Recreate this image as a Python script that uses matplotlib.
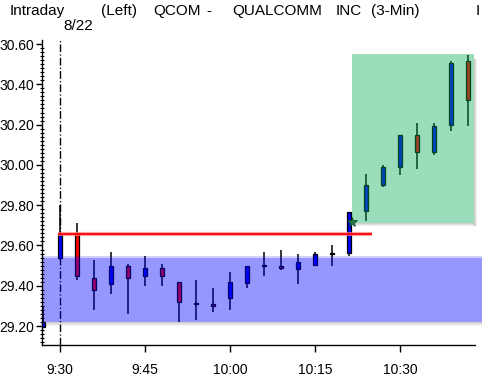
import matplotlib
matplotlib.use("Agg")
import matplotlib.pyplot as plt
from matplotlib.patches import Rectangle
import numpy as np

plt.rcParams['font.family'] = ['Liberation Sans Narrow', 'Liberation Sans', 'DejaVu Sans']

# ---- data (3-minute candles, QCOM 8/22) ----
times = ["9:27", "9:30", "9:33", "9:36", "9:39", "9:42", "9:45", "9:48", "9:51", "9:54",
         "9:57", "10:00", "10:03", "10:06", "10:09", "10:12", "10:15", "10:18", "10:21",
         "10:24", "10:27", "10:30", "10:33", "10:36", "10:39", "10:42"]
opens = [29.195, 29.54, 29.66, 29.44, 29.41, 29.50, 29.45, 29.49, 29.42, 29.31,
         29.31, 29.34, 29.415, 29.50, 29.50, 29.485, 29.505, 29.56, 29.565,
         29.77, 29.90, 29.99, 30.15, 30.065, 30.20, 30.515]
highs = [29.30, 29.80, 29.71, 29.53, 29.57, 29.51, 29.55, 29.51, 29.42, 29.43,
         29.39, 29.47, 29.50, 29.57, 29.58, 29.56, 29.57, 29.60, 29.765,
         29.955, 30.00, 30.15, 30.21, 30.21, 30.515, 30.545]
lows = [29.19, 29.53, 29.43, 29.28, 29.36, 29.26, 29.40, 29.40, 29.22, 29.23,
        29.27, 29.28, 29.39, 29.45, 29.48, 29.41, 29.50, 29.50, 29.55,
        29.72, 29.89, 29.95, 29.98, 30.05, 30.17, 30.195]
closes = [29.22, 29.65, 29.45, 29.38, 29.50, 29.44, 29.49, 29.45, 29.32, 29.31,
          29.30, 29.42, 29.50, 29.50, 29.487, 29.52, 29.56, 29.56, 29.765,
          29.90, 29.99, 30.15, 30.065, 30.195, 30.505, 30.32]

y_ticks = [29.20, 29.40, 29.60, 29.80, 30.00, 30.20, 30.40, 30.60]
x_tick_labels = ["9:30", "9:45", "10:00", "10:15", "10:30"]

# overlays
band_low, band_high = 29.22, 29.536          # blue range band
resist_level = 29.657                          # red line
resist_start, resist_end = "9:30", "10:25"
box_t0, box_t1 = "10:21.5", "10:43"            # green breakout box
box_low, box_high = 29.71, 30.55

# header words
header_words = ["Intraday", "(Left)", "QCOM", "-", "QUALCOMM", "INC", "(3-Min)", "I"]
date_label = "8/22"


def to_min(s):
    h, m = s.split(":")
    return (int(h) - 9) * 60 + float(m) - 30


x = np.array([to_min(t) for t in times])
o = np.array(opens); h = np.array(highs); l = np.array(lows); c = np.array(closes)

fig = plt.figure(figsize=(4.82, 3.81), dpi=100)
W, H = 482, 381
ax = fig.add_axes([42 / W, 1 - 345 / H, (475 - 42) / W, (345 - 40) / H])
ax.set_xlim(-3.18, 73.24)
ax.set_ylim(29.106, 30.62)

# vertical dash-dot line at the open
ax.axvline(0, color='black', lw=1.0, linestyle=(0, (5.5, 1.6, 0.9, 1.6)), zorder=1)

# candles
up = c >= o
colors = np.where(up, '#0000ff', '#ff0000')
ax.vlines(x, l, h, color='black', lw=1.1, zorder=2)
bottoms = np.minimum(o, c)
heights = np.maximum(np.abs(c - o), 0.004)
ax.bar(x, heights, bottom=bottoms, width=0.78, color=colors, edgecolor='black',
       linewidth=0.9, zorder=3)

# blue band (translucent, over candles) with soft shadow
ytr = ax.get_yaxis_transform()
px = 1 / 201.4  # price per pixel
for i, a in enumerate([0.30, 0.22, 0.14, 0.07]):
    ax.add_patch(Rectangle((0.005, band_low - (i + 1) * px), 1.02, px, transform=ytr,
                           facecolor='#606060', alpha=a, lw=0, zorder=4, clip_on=False))
ax.add_patch(Rectangle((0, band_low), 1.02, band_high - band_low, transform=ytr,
                       facecolor='#0000ff', alpha=0.41, lw=0, zorder=4, clip_on=False))
ax.add_patch(Rectangle((0, band_high), 1.02, 2 * px, transform=ytr,
                       facecolor='#0000ff', alpha=0.18, lw=0, zorder=4, clip_on=False))

# green box with shadow
b0, b1 = to_min(box_t0), to_min(box_t1)
mpx = 3 / 17  # minutes per pixel
for i, a in enumerate([0.30, 0.20, 0.10]):
    ax.add_patch(Rectangle((b1 + i * mpx, box_low - 3 * px), mpx, box_high - box_low - 2 * px,
                           facecolor='#606060', alpha=a, lw=0, zorder=4, clip_on=False))
    ax.add_patch(Rectangle((b0 + 3 * mpx, box_low - (i + 1) * px), b1 - b0 - 3 * mpx + i * mpx, px,
                           facecolor='#606060', alpha=a, lw=0, zorder=4, clip_on=False))
ax.add_patch(Rectangle((b0, box_low), b1 - b0, box_high - box_low,
                       facecolor='#00aa55', alpha=0.4, lw=0, zorder=4, clip_on=False))
ax.plot([b0], [box_low + 0.005], marker='*', ms=7, color='#1f7a45', mec='#0a4a25',
        mew=0.5, zorder=6)

# red resistance line with glow
r0, r1 = to_min(resist_start) - 0.35, to_min(resist_end)
ax.plot([r0, r1], [resist_level, resist_level], color='#ff8080', lw=3.0, alpha=0.7,
        solid_capstyle='butt', zorder=5)
ax.plot([r0, r1], [resist_level, resist_level], color='#ff0000', lw=1.3,
        solid_capstyle='butt', zorder=5)

# axes styling
for s in ['top', 'right']:
    ax.spines[s].set_visible(False)
for s in ['left', 'bottom']:
    ax.spines[s].set_linewidth(1.0)
    ax.spines[s].set_zorder(7)

ax.set_yticks(y_ticks)
ax.set_yticklabels([f"{v:.2f}" for v in y_ticks])
ax.set_yticks(np.arange(29.12, 30.62, 0.02), minor=True)
ax.set_xticks([to_min(t) for t in x_tick_labels])
ax.set_xticklabels(x_tick_labels)
ax.tick_params(axis='y', which='major', direction='out', length=4.3, width=1,
               pad=1.4, labelsize=10)
ax.tick_params(axis='y', which='minor', direction='inout', length=2.6, width=0.8)
ax.tick_params(axis='x', which='major', direction='out', length=5, width=1,
               pad=8, labelsize=10)

# header texts (word centres in pixels)
word_cx = [37.5, 118.5, 177.5, 209, 277.5, 349, 395, 477.5]
for wx, wtxt in zip(word_cx, header_words):
    fig.text(wx / W, 1 - 15 / H, wtxt, fontsize=11, va='baseline', ha='center')
fig.text(78.5 / W, 1 - 30 / H, date_label, fontsize=11, va='baseline', ha='center')

fig.savefig("out.png", dpi=100)
